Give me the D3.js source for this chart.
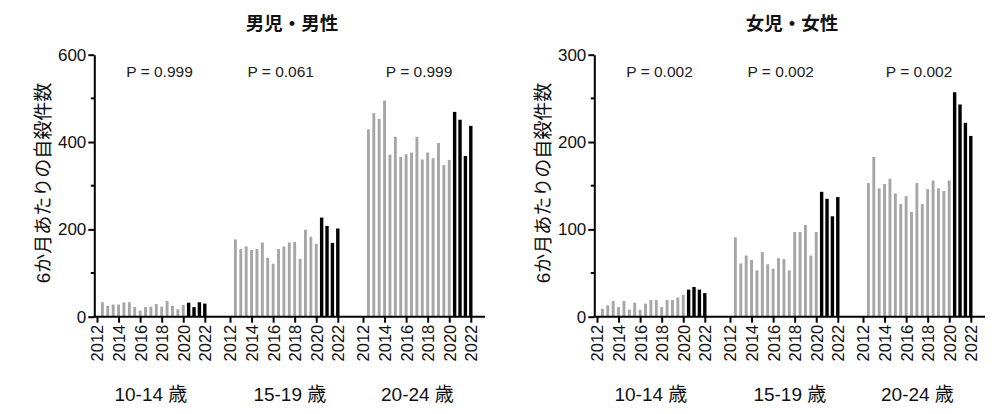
<!DOCTYPE html>
<html><head><meta charset="utf-8">
<script src="https://cdn.jsdelivr.net/npm/d3@7"></script>
<style>body{margin:0;background:#fff}</style>
</head><body>
<svg id="chart" width="1000" height="414"></svg>
<script>
// ---- data ----
const periods = [2012.5,2013,2013.5,2014,2014.5,2015,2015.5,2016,2016.5,2017,2017.5,2018,2018.5,2019,2019.5,2020,2020.5,2021,2021.5,2022];
const covidStart = 2020.5; // bars from this period on are black
const ageGroups = ["10-14 歳","15-19 歳","20-24 歳"];
const yearTicks = [2012,2014,2016,2018,2020,2022];

const male10_14 = [33,25,28,28,33,33,22,14,22,23,29,23,36,25,17,27,32,22,33,30];
const male15_19 = [177,155,161,153,155,170,135,121,155,161,170,171,132,199,183,167,227,208,169,202];
const male20_24 = [429,466,453,495,371,412,366,372,376,412,360,376,363,398,347,359,469,451,368,437];

const female10_14 = [9,13,18,11,18,8,16,8,15,19,19,11,19,19,22,25,31,34,31,27];
const female15_19 = [91,61,70,65,53,74,60,55,67,66,53,97,97,105,70,97,143,135,115,137];
const female20_24 = [153,183,147,152,158,141,129,138,120,153,129,146,156,147,144,156,257,243,222,207];

const maleP = ["P = 0.999","P = 0.061","P = 0.999"];
const femaleP = ["P = 0.002","P = 0.002","P = 0.002"];

const maleTicks = [0,200,400,600], maleMinor = [100,300,500];
const femaleTicks = [0,100,200,300], femaleMinor = [50,150,250];

const panels = [
  {title:"男児・男性", series:[male10_14,male15_19,male20_24], p:maleP, max:600, ticks:maleTicks, minor:maleMinor, x0:0},
  {title:"女児・女性", series:[female10_14,female15_19,female20_24], p:femaleP, max:300, ticks:femaleTicks, minor:femaleMinor, x0:500}
];

// ---- layout ----
const svg = d3.select("#chart");
const LAT = "'Liberation Sans', Arial, sans-serif";
const CJK = "'Noto Sans CJK JP', sans-serif";
const plotTop = 54.7, plotBottom = 316.7;
const axisX = 94.3;
const gray = "#a6a6a6";
const pLabelPos = [2017.8, 2016.7, 2017.2];
const groupLabelPos = [2017.0, 2017.55, 2017.05];

panels.forEach(pn => {
  const g = svg.append("g").attr("transform", `translate(${pn.x0},0)`);
  const y = d3.scaleLinear().domain([0, pn.max]).range([plotBottom, plotTop]);
  const band = d3.scaleBand().domain(ageGroups).range([97, 97 + 133*3]).paddingInner(0).paddingOuter(0);
  const inner = d3.scaleLinear().domain([2012, 2022]).range([0, 107.8]);
  const xAt = (grp, t) => band(grp) + inner(t);

  ageGroups.forEach((grp, gi) => {
    const vals = pn.series[gi];
    g.append("g").selectAll("rect").data(periods.map((t,i)=>({t, v: vals[i]})))
      .join("rect")
      .attr("x", d => xAt(grp, d.t) - (d.t >= covidStart ? 1.7 : 1.45))
      .attr("width", d => d.t >= covidStart ? 3.4 : 2.9)
      .attr("y", d => y(d.v))
      .attr("height", d => y(0) - y(d.v))
      .attr("fill", d => d.t >= covidStart ? "#000" : gray);

    const xs = d3.scaleLinear().domain([2012,2022]).range([band(grp), band(grp)+107.8]);
    const ax = g.append("g").attr("transform", `translate(0,${plotBottom})`)
      .call(d3.axisBottom(xs).tickValues(yearTicks).tickFormat(d3.format("d")).tickSize(6).tickSizeOuter(0));
    ax.select(".domain").remove();
    ax.selectAll(".tick line").attr("stroke", "#000").attr("stroke-width", 2);
    ax.selectAll(".tick text")
      .attr("font-family", LAT).attr("font-size", 16.5).attr("fill", "#111")
      .attr("transform", "rotate(-90)")
      .attr("text-anchor", "end").attr("x", -8).attr("y", 0).attr("dy", "0.36em");

    g.append("text").attr("x", xAt(grp, pLabelPos[gi])).attr("y", 77)
      .attr("text-anchor", "middle").attr("font-family", LAT).attr("font-size", 15.5).attr("fill", "#222")
      .text(pn.p[gi]);
    g.append("text").attr("x", xAt(grp, groupLabelPos[gi])).attr("y", 401)
      .attr("text-anchor", "middle").attr("font-family", `'Liberation Sans', ${CJK}`).attr("font-size", 19).attr("fill", "#111")
      .text(grp);
  });

  g.append("line").attr("x1", axisX - 1).attr("x2", 485).attr("y1", plotBottom).attr("y2", plotBottom)
    .attr("stroke", "#000").attr("stroke-width", 2);

  const ay = g.append("g").attr("transform", `translate(${axisX},0)`)
    .call(d3.axisLeft(y).tickValues(pn.ticks).tickFormat(d3.format("d")).tickSize(6).tickSizeOuter(0));
  ay.select(".domain").attr("stroke", "#000").attr("stroke-width", 2);
  ay.selectAll(".tick line").attr("stroke", "#000").attr("stroke-width", 2);
  ay.selectAll(".tick text").attr("font-family", LAT).attr("font-size", 17).attr("fill", "#111").attr("x", -8);
  g.append("g").selectAll("line").data(pn.minor).join("line")
    .attr("x1", axisX - 3.5).attr("x2", axisX).attr("y1", d => y(d)).attr("y2", d => y(d))
    .attr("stroke", "#000").attr("stroke-width", 2);

  g.append("text").attr("transform", `translate(43,183) rotate(-90)`)
    .attr("text-anchor", "middle").attr("dominant-baseline", "central")
    .attr("font-family", `'Liberation Sans', ${CJK}`).attr("font-size", 19).attr("fill", "#111")
    .text("6か月あたりの自殺件数");

  g.append("text").attr("x", 292).attr("y", 30).attr("text-anchor", "middle")
    .attr("font-family", CJK).attr("font-weight", "bold").attr("font-size", 18.5).attr("fill", "#111")
    .text(pn.title);
});
</script>
</body></html>
